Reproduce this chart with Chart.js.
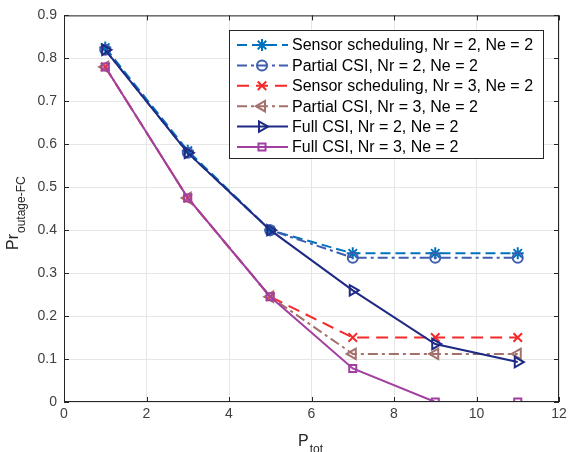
<!DOCTYPE html>
<html>
<head>
<meta charset="utf-8">
<script src="https://cdn.jsdelivr.net/npm/chart.js@4.4.1/dist/chart.umd.min.js"></script>
<style>
  html, body { margin: 0; padding: 0; background: #fff; }
  #wrap { width: 571px; height: 452px; position: relative; }
</style>
</head>
<body>
<div id="wrap"><canvas id="chart" width="571" height="452"></canvas></div>
<script>
// P_tot values along the x axis
const ptot = [1, 3, 5, 7, 9, 11];

// outage probability
const sensorNr2  = [0.825, 0.585, 0.400, 0.346, 0.346, 0.346];
const partialNr2 = [0.820, 0.580, 0.400, 0.336, 0.336, 0.336];
const sensorNr3  = [0.780, 0.475, 0.245, 0.150, 0.150, 0.150];
const partialNr3 = [0.780, 0.475, 0.245, 0.112, 0.112, 0.112];
const fullNr2    = [0.820, 0.580, 0.400, 0.260, 0.135, 0.093];
const fullNr3    = [0.780, 0.475, 0.245, 0.078, 0.000, 0.000];

const seriesNames = [
    'Sensor scheduling, Nr = 2, Ne = 2',
    'Partial CSI, Nr = 2, Ne = 2',
    'Sensor scheduling, Nr = 3, Ne = 2',
    'Partial CSI, Nr = 3, Ne = 2',
    'Full CSI, Nr = 2, Ne = 2',
    'Full CSI, Nr = 3, Ne = 2'
];

const xTicks = [0, 2, 4, 6, 8, 10, 12];
const yTicks = [0, 0.1, 0.2, 0.3, 0.4, 0.5, 0.6, 0.7, 0.8, 0.9];

const STYLES = [
    { color: '#0072BD', dash: [10, 5],       point: 'star',     rot: 0,   r: 6 },
    { color: '#3F5FAE', dash: [10, 4, 3, 4], point: 'circle',   rot: 0,   r: 5 },
    { color: '#F42A2A', dash: [12, 7],       point: 'crossRot', rot: 0,   r: 6 },
    { color: '#A3706B', dash: [10, 4, 3, 4], point: 'triangle', rot: -90, r: 6 },
    { color: '#1F2A85', dash: [],            point: 'triangle', rot: 90,  r: 6 },
    { color: '#A23FA0', dash: [],            point: 'rect',     rot: 0,   r: 5 }
];

const allSeries = [sensorNr2, partialNr2, sensorNr3, partialNr3, fullNr2, fullNr3];
const FONT = "'Liberation Sans', Arial, sans-serif";

const datasets = allSeries.map((vals, i) => {
    const s = STYLES[i];
    return {
        label: seriesNames[i],
        data: ptot.map((x, k) => ({ x: x, y: vals[k] })),
        borderColor: s.color,
        borderWidth: 2,
        borderDash: s.dash,
        pointStyle: s.point,
        pointRotation: s.rot,
        pointRadius: s.r,
        pointBorderWidth: 2,
        pointBorderColor: s.color,
        pointBackgroundColor: 'rgba(0,0,0,0)',
        tension: 0,
        order: allSeries.length - i
    };
});

// box, inward ticks, legend and axis titles in MATLAB style
const matlabFrame = {
    id: 'matlabFrame',
    afterDraw(chart) {
        const ctx = chart.ctx;
        const a = chart.chartArea;
        const xs = chart.scales.x, ys = chart.scales.y;
        ctx.save();
        ctx.strokeStyle = '#262626';
        ctx.lineWidth = 1;
        ctx.setLineDash([]);
        ctx.strokeRect(a.left + 0.5, a.top + 0.5, a.right - a.left - 1, a.bottom - a.top - 1);
        ctx.beginPath();
        xTicks.forEach(v => {
            const px = Math.round(xs.getPixelForValue(v)) + 0.5;
            ctx.moveTo(px, a.bottom); ctx.lineTo(px, a.bottom - 5);
            ctx.moveTo(px, a.top); ctx.lineTo(px, a.top + 5);
        });
        yTicks.forEach(v => {
            const py = Math.round(ys.getPixelForValue(v)) + 0.5;
            ctx.moveTo(a.left, py); ctx.lineTo(a.left + 5, py);
            ctx.moveTo(a.right, py); ctx.lineTo(a.right - 5, py);
        });
        ctx.stroke();

        // legend
        const lx = 229, ly = 30, lw = 314, lh = 128;
        ctx.fillStyle = '#fff';
        ctx.fillRect(lx, ly, lw, lh);
        ctx.strokeStyle = '#262626';
        ctx.strokeRect(lx + 0.5, ly + 0.5, lw, lh);
        ctx.font = '16px ' + FONT;
        ctx.textBaseline = 'middle';
        ctx.textAlign = 'left';
        seriesNames.forEach((name, i) => {
            const s = STYLES[i];
            const y = ly + 15 + i * 20.4;
            ctx.strokeStyle = s.color;
            ctx.lineWidth = 2;
            ctx.setLineDash(s.dash);
            ctx.beginPath();
            ctx.moveTo(lx + 8, y); ctx.lineTo(lx + 59, y);
            ctx.stroke();
            ctx.setLineDash([]);
            if (Chart.helpers && Chart.helpers.drawPoint) {
                ctx.fillStyle = 'rgba(0,0,0,0)';
                Chart.helpers.drawPoint(ctx, { pointStyle: s.point, rotation: s.rot, radius: s.r, borderWidth: 2 }, lx + 33, y);
            }
            ctx.fillStyle = '#000';
            ctx.fillText(name, lx + 63, y + 1);
        });

        // x title: P_tot
        ctx.fillStyle = '#262626';
        ctx.textBaseline = 'alphabetic';
        ctx.font = '16px ' + FONT;
        ctx.fillText('P', 298, 446);
        const pw = ctx.measureText('P').width;
        ctx.font = '12px ' + FONT;
        ctx.fillText('tot', 298 + pw + 1, 453);

        // y title: Pr_outage-FC
        ctx.translate(18, 250);
        ctx.rotate(-Math.PI / 2);
        ctx.font = '16px ' + FONT;
        ctx.fillText('Pr', 0, 0);
        const rw = ctx.measureText('Pr').width;
        ctx.font = '12px ' + FONT;
        ctx.fillText('outage-FC', rw + 1, 7);
        ctx.restore();
    }
};

new Chart(document.getElementById('chart'), {
    type: 'line',
    data: { datasets: datasets },
    options: {
        responsive: false,
        animation: false,
        layout: { padding: { left: 0, right: 12, top: 14, bottom: 0 } },
        plugins: { legend: { display: false }, tooltip: { enabled: false } },
        scales: {
            x: {
                type: 'linear',
                min: 0, max: 12,
                afterBuildTicks: s => { s.ticks = xTicks.map(v => ({ value: v })); },
                afterFit: s => { s.height = 50; },
                grid: { color: '#E6E6E6', drawTicks: false },
                border: { display: false },
                ticks: { color: '#404040', font: { family: FONT, size: 14 }, padding: 4 }
            },
            y: {
                min: 0, max: 0.9,
                afterBuildTicks: s => { s.ticks = yTicks.map(v => ({ value: v })); },
                afterFit: s => { s.width = 64; },
                grid: { color: '#E6E6E6', drawTicks: false },
                border: { display: false },
                ticks: {
                    color: '#404040', font: { family: FONT, size: 14 }, padding: 7,
                    callback: v => (v === 0 ? '0' : v.toFixed(1))
                }
            }
        }
    },
    plugins: [matlabFrame]
});
</script>
</body>
</html>
